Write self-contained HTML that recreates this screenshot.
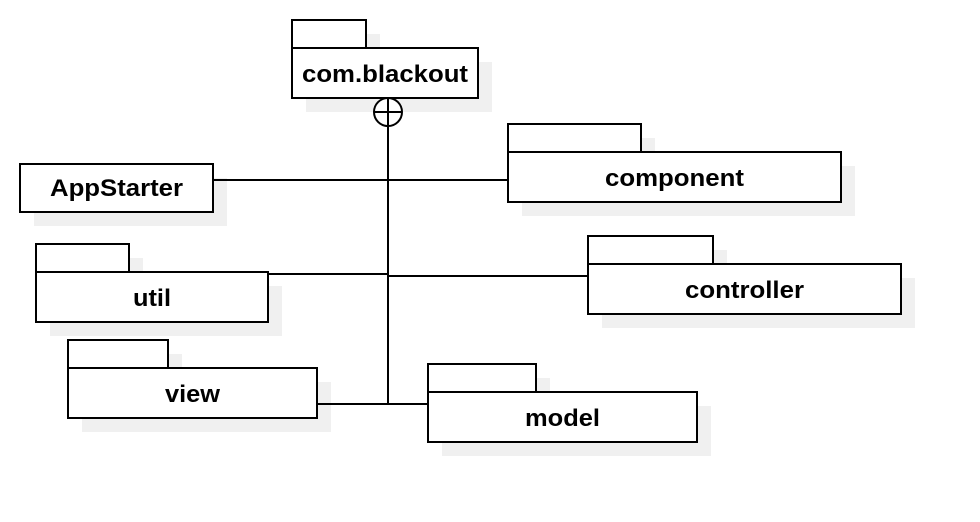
<!DOCTYPE html>
<html><head><meta charset="utf-8"><style>
html,body{margin:0;padding:0;background:#fff;}
svg{display:block;}
text{font-family:"Liberation Sans",sans-serif;font-weight:bold;font-size:24px;fill:#000;}
</style></head><body>
<svg width="980" height="522" viewBox="0 0 980 522" xmlns="http://www.w3.org/2000/svg">
<g fill="#f0f0f0" stroke="none">
<rect x="306" y="34" width="74" height="28"/><rect x="306" y="62" width="186" height="50"/>
<rect x="34" y="178" width="193" height="48"/>
<rect x="522" y="138" width="133" height="28"/><rect x="522" y="166" width="333" height="50"/>
<rect x="50" y="258" width="93" height="28"/><rect x="50" y="286" width="232" height="50"/>
<rect x="602" y="250" width="125" height="28"/><rect x="602" y="278" width="313" height="50"/>
<rect x="82" y="354" width="100" height="28"/><rect x="82" y="382" width="249" height="50"/>
<rect x="442" y="378" width="108" height="28"/><rect x="442" y="406" width="269" height="50"/>
</g>
<g fill="none" stroke="#000" stroke-width="2">
<line x1="388" y1="126" x2="388" y2="404"/>
<line x1="213" y1="180" x2="508" y2="180"/>
<line x1="268" y1="274" x2="388" y2="274"/>
<line x1="388" y1="276" x2="588" y2="276"/>
<line x1="317" y1="404" x2="428" y2="404"/>
</g>
<g fill="#fff" stroke="#000" stroke-width="2">
<rect x="292" y="20" width="74" height="28"/><rect x="292" y="48" width="186" height="50"/>
<rect x="20" y="164" width="193" height="48"/>
<rect x="508" y="124" width="133" height="28"/><rect x="508" y="152" width="333" height="50"/>
<rect x="36" y="244" width="93" height="28"/><rect x="36" y="272" width="232" height="50"/>
<rect x="588" y="236" width="125" height="28"/><rect x="588" y="264" width="313" height="50"/>
<rect x="68" y="340" width="100" height="28"/><rect x="68" y="368" width="249" height="50"/>
<rect x="428" y="364" width="108" height="28"/><rect x="428" y="392" width="269" height="50"/>
<circle cx="388" cy="112" r="14"/>
<line x1="374" y1="112" x2="402" y2="112"/><line x1="388" y1="98" x2="388" y2="126"/>
</g>
<g>
<text x="302" y="82" textLength="166" lengthAdjust="spacingAndGlyphs">com.blackout</text>
<text x="50" y="196" textLength="133" lengthAdjust="spacingAndGlyphs">AppStarter</text>
<text x="605" y="186" textLength="139" lengthAdjust="spacingAndGlyphs">component</text>
<text x="133" y="306" textLength="38" lengthAdjust="spacingAndGlyphs">util</text>
<text x="685" y="298" textLength="119" lengthAdjust="spacingAndGlyphs">controller</text>
<text x="165" y="402" textLength="55" lengthAdjust="spacingAndGlyphs">view</text>
<text x="525" y="426" textLength="75" lengthAdjust="spacingAndGlyphs">model</text>
</g>
</svg>
</body></html>
